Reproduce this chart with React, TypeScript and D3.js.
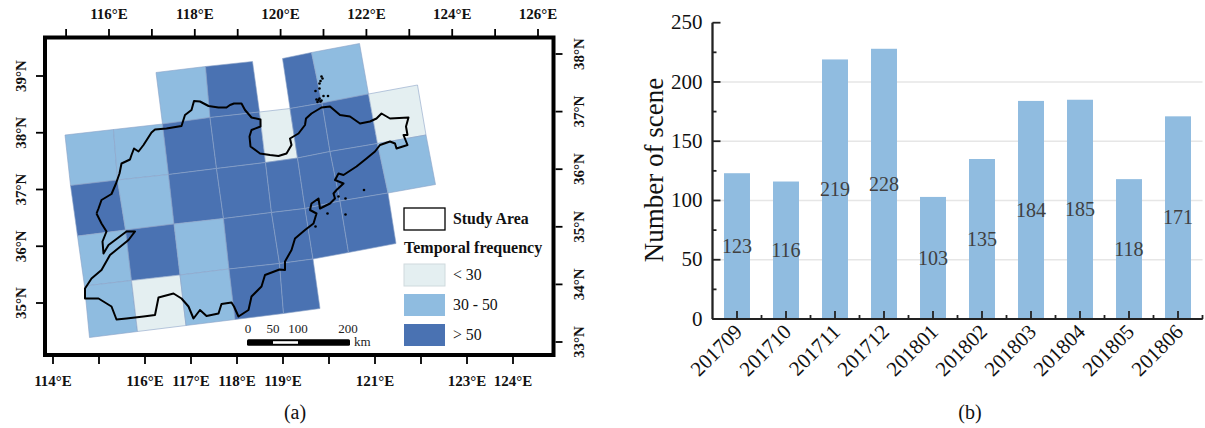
import * as d3 from "d3";
import React, { useRef, useEffect } from "react";

const SERIF = '"Liberation Serif", serif';

// map panel data, everything in km on the projected map (easting, northing)
const gridLine1 = [[40, 440], [137, 451], [235, 462], [330, 475], [429, 486], [490, 493], [554, 504], [647, 522], [745, 540]];
const gridLine2 = [[51, 339], [145, 350], [247, 361], [343, 373], [441, 385], [505, 394], [570, 407], [665, 423], [762, 440]];
const gridLine3 = [[65, 238], [161, 250], [258, 262], [357, 273], [453, 285], [520, 293], [590, 308], [686, 324], [781, 341]];
const gridLine4 = [[79, 138], [173, 149], [270, 160], [368, 172], [469, 183], [536, 192], [607, 205], [702, 223]];
const gridLine5 = [[89, 35], [185, 47], [282, 59], [380, 71], [477, 83], [550, 93]];
const topWestEdge = [[222, 565], [321, 577], [415, 587]];
const topWestBase = [[235, 462], [330, 475], [429, 486]];
const topEastEdge = [[475, 593], [533, 605], [629, 623]];
const topEastBase = [[490, 493], [554, 504], [647, 522]];

// frequency class of every scene: 0 "< 30", 1 "30 - 50", 2 "> 50"
const topWestFreq = [1, 2];
const topEastFreq = [2, 1];
const row2Freq = [1, 1, 2, 2, 0, 2, 2, 0];
const row3Freq = [2, 1, 2, 2, 2, 2, 2, 1];
const row4Freq = [1, 2, 1, 2, 2, 2, 2];
const row5Freq = [1, 0, 1, 2, 2];

const studyArea = [
  [103, 283], [107, 293], [113, 310], [133, 322], [142, 343], [149, 363], [153, 383], [170, 391], [173, 400],
  [178, 413], [187, 407], [197, 420], [213, 445], [220, 451], [243, 453], [273, 458], [280, 480], [293, 490],
  [298, 508], [310, 507], [327, 498], [347, 495], [363, 495], [370, 500], [378, 503], [393, 503], [400, 490],
  [413, 475], [431, 471], [431, 457], [413, 450], [409, 437], [411, 417], [430, 403], [450, 400], [467, 398],
  [483, 403], [493, 420], [490, 433], [507, 443], [520, 460], [522, 473], [533, 483], [553, 495], [570, 497],
  [590, 480], [610, 477], [630, 463], [650, 467], [663, 473], [673, 483], [690, 473], [727, 475], [722, 457],
  [725, 440], [717, 440], [725, 420], [703, 413], [700, 423], [690, 427], [670, 420], [660, 407], [643, 393],
  [623, 377], [597, 360], [587, 363], [580, 350], [597, 343], [583, 330], [577, 323], [580, 313], [570, 303],
  [550, 293], [547, 313], [533, 303], [530, 290], [543, 283], [537, 263], [520, 250], [500, 233], [493, 210],
  [480, 187], [480, 170], [469, 171], [440, 160], [433, 137], [413, 117], [407, 90], [387, 77], [378, 97],
  [373, 105], [353, 102], [347, 83], [323, 78], [310, 90], [297, 73], [287, 97], [273, 113], [257, 123],
  [227, 115], [220, 80], [197, 77], [163, 73], [143, 71], [133, 97], [107, 113], [80, 113], [80, 133],
  [93, 153], [113, 170], [130, 200], [167, 230], [180, 247], [163, 247], [127, 220], [117, 203], [115, 227],
  [123, 247], [113, 263], [103, 283],
];
const islands = [
  [553, 557], [555, 553], [551, 548], [549, 543], [549, 533], [541, 528], [547, 510], [543, 511], [549, 513],
  [551, 507], [545, 506], [553, 509], [557, 518], [566, 518], [638, 330], [601, 313], [587, 317], [565, 283],
  [601, 281], [541, 257],
];

const lonBottom = d3.range(114, 125);
const lonBottomLabels = [114, 116, 117, 118, 119, 121, 123, 124];
const lonTop = d3.range(115, 127);
const lonTopLabels = [116, 118, 120, 122, 124, 126];
const latLeft = [35, 36, 37, 38, 39];
const latRight = [33, 34, 35, 36, 37, 38];

const scaleMarks = [0, 50, 100, 200];
const legendLabels = ["< 30", "30 - 50", "> 50"];
const freqColors = ["#e4eff1", "#8fbce0", "#4a72b2"];

// bar panel data
const months = ["201709", "201710", "201711", "201712", "201801", "201802", "201803", "201804", "201805", "201806"];
const scenes = [123, 116, 219, 228, 103, 135, 184, 185, 118, 171];
const yMajor = [0, 50, 100, 150, 200, 250];
const yMinor = [25, 75, 125, 175, 225];
const yGrid = [50, 100, 150, 200];

const App = () => {
  const svgRef = useRef<SVGSVGElement>(null);

  useEffect(() => {
    const svg = d3.select(svgRef.current);
    svg.selectAll("*").remove();

    // ---- (a) map ----
    const xMap = d3.scaleLinear().domain([0, 1017]).range([45, 553.5]);
    const yMap = d3.scaleLinear().domain([0, 635]).range([355, 37.5]);
    const polyLine = d3.line().x(d => xMap(d[0])).y(d => yMap(d[1]));

    const rows = [
      { upper: topWestEdge, lower: topWestBase, freq: topWestFreq },
      { upper: topEastEdge, lower: topEastBase, freq: topEastFreq },
      { upper: gridLine1, lower: gridLine2, freq: row2Freq },
      { upper: gridLine2, lower: gridLine3, freq: row3Freq },
      { upper: gridLine3, lower: gridLine4, freq: row4Freq },
      { upper: gridLine4, lower: gridLine5, freq: row5Freq },
    ];
    const tiles = rows.flatMap(r =>
      r.freq.map((f, i) => ({
        freq: f,
        corners: [r.upper[i], r.upper[i + 1], r.lower[i + 1], r.lower[i]],
      }))
    );

    svg.append("g")
      .selectAll("path")
      .data(tiles)
      .join("path")
      .attr("d", d => polyLine(d.corners as any) + "Z")
      .attr("fill", d => freqColors[d.freq])
      .attr("stroke", "#8ba3c8")
      .attr("stroke-width", 0.6);

    svg.append("path")
      .attr("d", polyLine(studyArea as any))
      .attr("fill", "none")
      .attr("stroke", "#000")
      .attr("stroke-width", 2)
      .attr("stroke-linejoin", "round");

    svg.append("g")
      .selectAll("circle")
      .data(islands)
      .join("circle")
      .attr("cx", d => xMap(d[0]))
      .attr("cy", d => yMap(d[1]))
      .attr("r", 1.3)
      .attr("fill", "#000");

    svg.append("rect")
      .attr("x", xMap(0))
      .attr("y", yMap(635))
      .attr("width", xMap(1017) - xMap(0))
      .attr("height", yMap(0) - yMap(635))
      .attr("fill", "none")
      .attr("stroke", "#000")
      .attr("stroke-width", 4);

    // each side of the frame has its own graticule spacing
    const lonB = d3.scaleLinear().domain([114, 124]).range([53, 513]);
    const lonT = d3.scaleLinear().domain([116, 126]).range([109, 538]);
    const latL = d3.scaleLinear().domain([35, 39]).range([303, 76]);
    const latR = d3.scaleLinear().domain([33, 38]).range([342, 54]);

    const styleFrameAxis = g => {
      g.select(".domain").remove();
      g.selectAll("line").attr("stroke", "#000").attr("stroke-width", 1.8);
      g.selectAll("text")
        .attr("font-family", SERIF)
        .attr("font-size", 15)
        .attr("font-weight", "bold")
        .attr("fill", "#111");
    };

    svg.append("g")
      .attr("transform", `translate(0,${yMap(0) + 1})`)
      .call(
        d3.axisBottom(lonB).tickValues(lonBottom).tickSize(8).tickPadding(11).offset(0)
          .tickFormat(d => (lonBottomLabels.includes(+d) ? `${d}°E` : ""))
      )
      .call(styleFrameAxis);

    svg.append("g")
      .attr("transform", `translate(0,${yMap(635) - 1.5})`)
      .call(
        d3.axisTop(lonT).tickValues(lonTop).tickSize(7).tickPadding(10).offset(0)
          .tickFormat(d => (lonTopLabels.includes(+d) ? `${d}°E` : ""))
      )
      .call(styleFrameAxis);

    const sideLabels = (g, x) => {
      g.selectAll("text")
        .attr("x", 0)
        .attr("y", 0)
        .attr("dy", 0)
        .attr("text-anchor", "middle")
        .attr("transform", `translate(${x},0) rotate(-90)`);
    };

    svg.append("g")
      .attr("transform", `translate(${xMap(0) - 2},0)`)
      .call(d3.axisLeft(latL).tickValues(latLeft).tickSize(7).offset(0).tickFormat(d => `${d}°N`))
      .call(styleFrameAxis)
      .call(sideLabels, -17);

    svg.append("g")
      .attr("transform", `translate(${xMap(1017) + 2},0)`)
      .call(d3.axisRight(latR).tickValues(latRight).tickSize(7).offset(0).tickFormat(d => `${d}°N`))
      .call(styleFrameAxis)
      .call(sideLabels, 28);

    // scale bar, drawn in map km
    const barE = 406;
    const barN = 25;
    const scaleBar = svg.append("g");
    scaleBar.append("rect")
      .attr("x", xMap(barE) - 1)
      .attr("y", yMap(barN) - 3.3)
      .attr("width", xMap(barE + 200) - xMap(barE) + 3)
      .attr("height", 6.6)
      .attr("rx", 1.5)
      .attr("fill", "#000");
    scaleBar.append("rect")
      .attr("x", xMap(barE + 50))
      .attr("y", yMap(barN) - 1.3)
      .attr("width", xMap(barE + 100) - xMap(barE + 50))
      .attr("height", 2.6)
      .attr("fill", "#fff");
    scaleBar.selectAll("text.mark")
      .data(scaleMarks)
      .join("text")
      .attr("class", "mark")
      .attr("x", d => xMap(barE + d))
      .attr("y", yMap(barN) - 10)
      .attr("text-anchor", "middle")
      .attr("font-family", SERIF)
      .attr("font-size", 13)
      .attr("fill", "#222")
      .text(d => d);
    scaleBar.append("text")
      .attr("x", xMap(barE + 200) + 6)
      .attr("y", yMap(barN) + 3.5)
      .attr("font-family", SERIF)
      .attr("font-size", 13)
      .attr("fill", "#222")
      .text("km");

    // legend
    const legendX = 404;
    const legend = svg.append("g").attr("font-family", SERIF).attr("font-size", 15.8).attr("fill", "#111");
    legend.append("rect")
      .attr("x", legendX).attr("y", 208).attr("width", 41).attr("height", 22)
      .attr("fill", "#fff").attr("stroke", "#000").attr("stroke-width", 1.3);
    legend.append("text")
      .attr("x", legendX + 49).attr("y", 224).attr("font-weight", "bold").text("Study Area");
    legend.append("text")
      .attr("x", legendX).attr("y", 253).attr("font-weight", "bold").attr("font-size", 16).text("Temporal frequency");
    const yLegend = d3.scalePoint().domain(legendLabels).range([264, 324]);
    legend.selectAll("rect.swatch")
      .data(legendLabels)
      .join("rect")
      .attr("class", "swatch")
      .attr("x", legendX)
      .attr("y", d => yLegend(d))
      .attr("width", 41)
      .attr("height", 22)
      .attr("fill", (d, i) => freqColors[i])
      .attr("stroke", (d, i) => (i === 0 ? "#cfdadd" : "none"));
    legend.selectAll("text.lab")
      .data(legendLabels)
      .join("text")
      .attr("class", "lab")
      .attr("x", legendX + 49)
      .attr("y", d => yLegend(d) + 16)
      .text(d => d);

    svg.append("text")
      .attr("x", 295).attr("y", 419)
      .attr("text-anchor", "middle")
      .attr("font-family", SERIF).attr("font-size", 20).attr("fill", "#111")
      .text("(a)");

    // ---- (b) bars ----
    const left = 712.5;
    const right = 1202.5;
    const xScale = d3.scaleBand().domain(months).range([left, right]).paddingInner(0.47).paddingOuter(0.235);
    const xEdges = d3.scaleLinear().domain([0, months.length]).range([left, right]);
    const yScale = d3.scaleLinear().domain([0, 250]).range([319, 22.7]);

    svg.append("g")
      .selectAll("line")
      .data(yGrid)
      .join("line")
      .attr("x1", left)
      .attr("x2", right)
      .attr("y1", d => yScale(d))
      .attr("y2", d => yScale(d))
      .attr("stroke", "#e6e6e6")
      .attr("stroke-width", 1.4);

    svg.append("g")
      .selectAll("rect")
      .data(scenes)
      .join("rect")
      .attr("x", (d, i) => xScale(months[i]))
      .attr("y", d => yScale(d))
      .attr("width", xScale.bandwidth())
      .attr("height", d => yScale(0) - yScale(d))
      .attr("fill", "#90bce0");

    svg.append("g")
      .selectAll("text")
      .data(scenes)
      .join("text")
      .attr("x", (d, i) => xScale(months[i]) + xScale.bandwidth() / 2)
      .attr("y", d => yScale(d / 2))
      .attr("dy", "0.34em")
      .attr("text-anchor", "middle")
      .attr("font-family", SERIF)
      .attr("font-size", 20)
      .attr("fill", "#404040")
      .text(d => d);

    const styleBarAxis = g => {
      g.selectAll(".domain").attr("stroke", "#222").attr("stroke-width", 1.8);
      g.selectAll("line").attr("stroke", "#222").attr("stroke-width", 1.8);
      g.selectAll("text").attr("font-family", SERIF).attr("font-size", 21).attr("fill", "#111");
    };

    svg.append("g")
      .attr("transform", `translate(${left},0)`)
      .call(d3.axisLeft(yScale).tickValues(yMinor).tickSizeInner(-4).tickSizeOuter(0).offset(0).tickFormat(() => ""))
      .call(styleBarAxis);
    svg.append("g")
      .attr("transform", `translate(${left},0)`)
      .call(d3.axisLeft(yScale).tickValues(yMajor).tickSizeInner(-8).tickSizeOuter(0).tickPadding(10).offset(0))
      .call(styleBarAxis);

    svg.append("g")
      .attr("transform", `translate(0,${yScale(0)})`)
      .call(d3.axisBottom(xEdges).tickValues(d3.range(1, months.length + 1)).tickSizeInner(-4).tickSizeOuter(0).offset(0).tickFormat(() => ""))
      .call(styleBarAxis);
    svg.append("g")
      .attr("transform", `translate(0,${yScale(0)})`)
      .call(d3.axisBottom(xScale).tickSizeInner(-8).tickSizeOuter(0).offset(0))
      .call(styleBarAxis)
      .call(g => g.selectAll("text")
        .attr("x", 0)
        .attr("y", 0)
        .attr("dy", 0)
        .attr("font-size", 21)
        .attr("text-anchor", "end")
        .attr("transform", "translate(6.5,14) rotate(-45)"));

    svg.append("text")
      .attr("transform", "translate(663,170) rotate(-90)")
      .attr("text-anchor", "middle")
      .attr("font-family", SERIF)
      .attr("font-size", 27)
      .attr("fill", "#111")
      .text("Number of scene");

    svg.append("text")
      .attr("x", 970).attr("y", 419)
      .attr("text-anchor", "middle")
      .attr("font-family", SERIF).attr("font-size", 20).attr("fill", "#111")
      .text("(b)");
  }, []);

  return (
    <svg
      ref={svgRef}
      width={1205}
      height={428}
      style={{ position: "absolute", left: 0, top: 0, background: "#fff" }}
    />
  );
};

export default App;
